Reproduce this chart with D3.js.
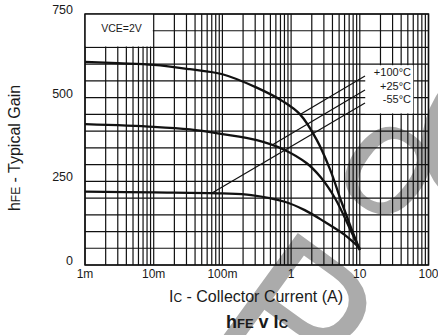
<!DOCTYPE html>
<html>
<head>
<meta charset="utf-8">
<script src="https://cdn.jsdelivr.net/npm/d3@7"></script>
<style>
  body { margin: 0; background: #fff; }
  text { font-family: "Liberation Sans", Arial, sans-serif; fill: #1a1a1a; }
</style>
</head>
<body>
<div id="chart"></div>
<script>
const width = 438;
const height = 335;

// hFE vs collector current, VCE = 2V
const tempLabels = ["+100°C", "+25°C", "-55°C"];
const gain100 = [[0.001, 607], [0.003, 603], [0.01, 598], [0.0337, 585], [0.1, 570], [0.316, 530], [0.76, 489], [1.35, 450], [2.36, 374], [3.7, 285], [5.4, 189], [7.5, 110], [10, 45]];
const gain25 = [[0.001, 421], [0.01, 413], [0.0337, 405], [0.1, 391], [0.316, 373], [0.76, 346], [1.69, 304], [2.7, 262], [4.4, 198], [7.5, 100], [10, 45]];
const gainM55 = [[0.001, 219], [0.01, 217], [0.1, 214], [0.263, 209], [0.807, 189], [1.58, 164], [3.08, 129], [6.03, 90], [10, 50]];
const leaders = [[[11.9, 565], [1.35, 450]], [[11.9, 523], [0.545, 360]], [[11.9, 484], [0.0706, 215]]];
const labelY = [577, 535, 496];
const xTicks = [0.001, 0.01, 0.1, 1, 10, 100];
const xTickLabels = ["1m", "10m", "100m", "1", "10", "100"];
const yTicks = [0, 250, 500, 750];

const plotL = 85, plotR = 428.5, plotT = 14, plotB = 265;

const svg = d3.select("#chart")
  .append("svg")
  .attr("width", width)
  .attr("height", height);

const x = d3.scaleLog().domain([0.001, 100]).range([plotL, plotR]);
const y = d3.scaleLinear().domain([0, 750]).range([plotB, plotT]);

// watermark glyphs behind everything
const wm = svg.append("g");
wm.append("text")
  .attr("transform", "translate(206,332) rotate(36)")
  .style("font-size", "195px")
  .style("fill", "#ababab")
  .text("P");
wm.append("text")
  .attr("transform", "translate(388,170) rotate(36)")
  .attr("text-anchor", "middle")
  .attr("dy", "0.27em")
  .style("font-size", "160px")
  .style("fill", "#ababab")
  .text("o");
wm.append("text")
  .attr("transform", "translate(508,128) rotate(36)")
  .attr("text-anchor", "middle")
  .attr("dy", "0.36em")
  .style("font-size", "250px")
  .style("fill", "#ababab")
  .text("C");

const grid = svg.append("g");

// vertical log grid 1..9 per decade
const vLines = [];
for (let e = -3; e < 2; e++) {
  for (let m = 1; m < 10; m++) vLines.push(m * Math.pow(10, e));
}
vLines.push(100);

grid.selectAll(".v")
  .data(vLines)
  .enter().append("line")
  .attr("x1", d => x(d)).attr("x2", d => x(d))
  .attr("y1", plotT).attr("y2", plotB)
  .attr("stroke", "#111")
  .attr("stroke-width", 1.2);

grid.selectAll(".h")
  .data(d3.range(0, 751, 50))
  .enter().append("line")
  .attr("x1", plotL).attr("x2", plotR)
  .attr("y1", d => y(d)).attr("y2", d => y(d))
  .attr("stroke", "#111")
  .attr("stroke-width", 1.2);

// white label boxes
svg.append("rect")
  .attr("x", x(0.001)).attr("y", y(750))
  .attr("width", x(0.0097) - x(0.001))
  .attr("height", y(650) - y(750) - 1)
  .attr("fill", "#fff");

svg.append("rect")
  .attr("x", x(12)).attr("y", y(597))
  .attr("width", x(60) - x(12))
  .attr("height", y(453) - y(597))
  .attr("fill", "#fff");

svg.append("rect")
  .attr("x", plotL).attr("y", plotT)
  .attr("width", plotR - plotL).attr("height", plotB - plotT)
  .attr("fill", "none")
  .attr("stroke", "#111")
  .attr("stroke-width", 1.5);

svg.append("text")
  .attr("x", x(0.0034)).attr("y", 32)
  .attr("text-anchor", "middle")
  .style("font-size", "10.5px")
  .text("VCE=2V");

// leader lines
svg.selectAll(".leader")
  .data(leaders)
  .enter().append("line")
  .attr("x1", d => x(d[0][0])).attr("y1", d => y(d[0][1]))
  .attr("x2", d => x(d[1][0])).attr("y2", d => y(d[1][1]))
  .attr("stroke", "#111")
  .attr("stroke-width", 1.2);

svg.selectAll(".tlabel")
  .data(tempLabels)
  .enter().append("text")
  .attr("x", x(55.6))
  .attr("y", (d, i) => y(labelY[i]) + 4)
  .attr("text-anchor", "end")
  .style("font-size", "11px")
  .text(d => d);

const line = d3.line()
  .x(d => x(d[0]))
  .y(d => y(d[1]))
  .curve(d3.curveCatmullRom.alpha(0.5));

svg.selectAll(".curve")
  .data([gain100, gain25, gainM55])
  .enter().append("path")
  .attr("d", line)
  .attr("fill", "none")
  .attr("stroke", "#111")
  .attr("stroke-width", 2.3);

// tick labels
svg.selectAll(".xt")
  .data(xTicks)
  .enter().append("text")
  .attr("x", d => x(d))
  .attr("y", 278)
  .attr("text-anchor", "middle")
  .style("font-size", "12px")
  .text((d, i) => xTickLabels[i]);

svg.selectAll(".yt")
  .data(yTicks)
  .enter().append("text")
  .attr("x", 73)
  .attr("y", d => y(d))
  .attr("text-anchor", "end")
  .style("font-size", "12.5px")
  .text(d => d);

// axis titles
const xt = svg.append("text")
  .attr("x", 256).attr("y", 302)
  .attr("text-anchor", "middle")
  .style("font-size", "16px");
xt.append("tspan").text("I");
xt.append("tspan").style("font-size", "12px").text("C");
xt.append("tspan").text(" - Collector Current (A)");

const yt = svg.append("text")
  .attr("transform", "translate(20,148) rotate(-90)")
  .attr("text-anchor", "middle")
  .style("font-size", "16px");
yt.append("tspan").text("h");
yt.append("tspan").style("font-size", "12px").text("FE");
yt.append("tspan").text(" - Typical Gain");

const title = svg.append("text")
  .attr("x", 257).attr("y", 328)
  .attr("text-anchor", "middle")
  .style("font-size", "18px")
  .style("font-weight", "bold");
title.append("tspan").text("h");
title.append("tspan").style("font-size", "13px").text("FE");
title.append("tspan").text(" v I");
title.append("tspan").style("font-size", "13px").text("C");
</script>
</body>
</html>
